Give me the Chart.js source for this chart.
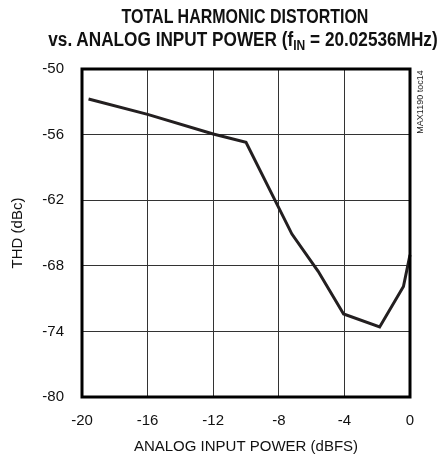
<!DOCTYPE html>
<html>
<head>
<meta charset="utf-8">
<script src="https://cdn.jsdelivr.net/npm/chart.js@4"></script>
<style>
    html, body { margin: 0; padding: 0; background: #fff; }
    #wrap { position: relative; width: 439px; height: 456px; overflow: hidden; }
    .titulo {
        position: absolute; width: 600px;
        text-align: center; font-family: "Liberation Sans", Arial, sans-serif;
        font-weight: bold; font-size: 20px; line-height: 23px; color: #111;
        transform-origin: 50% 0; white-space: nowrap;
    }
    #titulo1 { left: -55px; top: 5px; transform: scaleX(0.8); }
    #titulo2 { left: -57px; top: 28px; transform: scaleX(0.86); }
    .titulo sub { font-size: 14px; vertical-align: -4px; line-height: 0; }
    canvas { position: absolute; left: 0; top: 0; }
</style>
</head>
<body>
<div id="wrap">
    <canvas id="graficoTHD" width="439" height="456"></canvas>
    <div class="titulo" id="titulo1">TOTAL HARMONIC DISTORTION</div>
    <div class="titulo" id="titulo2">vs. ANALOG INPUT POWER (f<sub>IN</sub> = 20.02536MHz)</div>
</div>
<script>
// valores
const potenciaEntrada = [-19.6, -16, -12, -10, -7.2, -5.6, -4.05, -1.85, -0.4, 0];
const thd = [-52.75, -54.15, -55.95, -56.7, -65.1, -68.5, -72.4, -73.6, -69.9, -67.0];
const ticksX = [-20, -16, -12, -8, -4, 0];
const ticksY = [-80, -74, -68, -62, -56, -50];

const fonte = '"Liberation Sans", Arial, sans-serif';
const corTinta = '#231f20';

// moldura grossa em volta da área do gráfico + código da figura
const molduraPlugin = {
    id: 'moldura',
    afterDraw(chart) {
        const { ctx, chartArea: a } = chart;
        ctx.save();
        ctx.strokeStyle = '#000';
        ctx.lineWidth = 3;
        ctx.strokeRect(a.left, a.top, a.right - a.left, a.bottom - a.top);
        ctx.translate(421, 102);
        ctx.rotate(-Math.PI / 2);
        ctx.font = '9px ' + fonte;
        ctx.fillStyle = '#222';
        ctx.textAlign = 'center';
        ctx.textBaseline = 'middle';
        ctx.fillText('MAX1190 toc14', 0, 0);
        ctx.restore();
    }
};

const ctx = document.getElementById('graficoTHD').getContext('2d');
new Chart(ctx, {
    type: 'line',
    data: {
        datasets: [{
            data: potenciaEntrada.map((x, i) => ({ x: x, y: thd[i] })),
            borderColor: corTinta,
            borderWidth: 3,
            pointRadius: 0,
            tension: 0,
            clip: false
        }]
    },
    options: {
        responsive: false,
        animation: false,
        layout: { padding: { top: 69, right: 29, left: 0, bottom: 0 } },
        plugins: { legend: { display: false }, tooltip: { enabled: false } },
        scales: {
            x: {
                type: 'linear',
                min: -20,
                max: 0,
                afterBuildTicks: s => { s.ticks = ticksX.map(v => ({ value: v })); },
                afterFit: s => { s.height = 59; },
                grid: { color: '#333', lineWidth: 1, drawTicks: false },
                border: { display: false },
                ticks: { padding: 15, color: '#111', font: { family: fonte, size: 15 } },
                title: {
                    display: true,
                    text: 'ANALOG INPUT POWER (dBFS)',
                    color: '#111',
                    font: { family: fonte, size: 15 },
                    padding: { top: 0, bottom: 0 }
                }
            },
            y: {
                min: -80,
                max: -50,
                afterBuildTicks: s => { s.ticks = ticksY.map(v => ({ value: v })); },
                afterFit: s => { s.width = 82; },
                grid: { color: '#333', lineWidth: 1, drawTicks: false },
                border: { display: false },
                ticks: { padding: 18, color: '#111', font: { family: fonte, size: 15 } },
                title: {
                    display: true,
                    text: 'THD (dBc)',
                    color: '#111',
                    font: { family: fonte, size: 15 },
                    padding: { top: 9, bottom: 0 }
                }
            }
        }
    },
    plugins: [molduraPlugin]
});
</script>
</body>
</html>
